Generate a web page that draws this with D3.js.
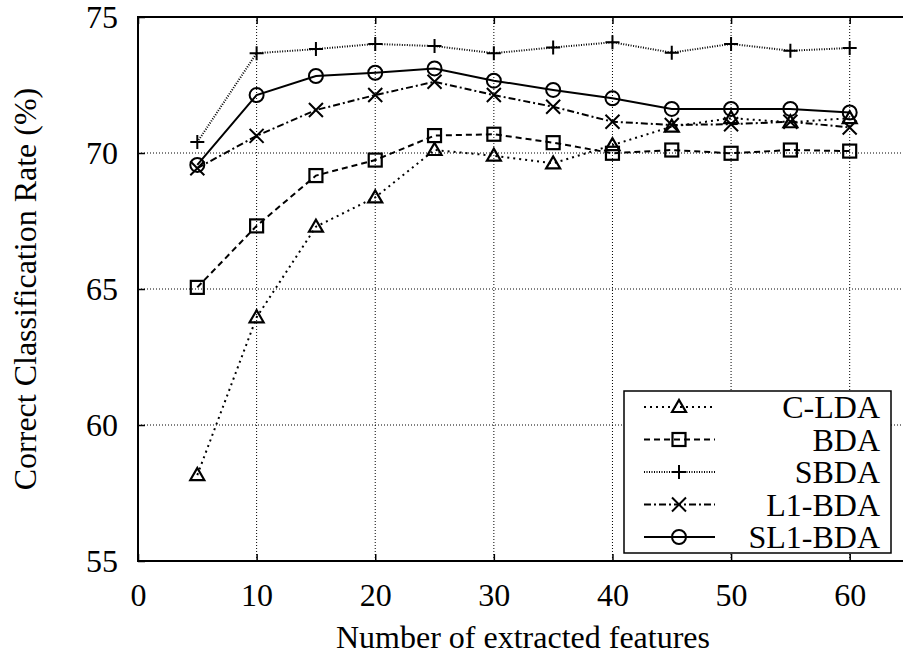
<!DOCTYPE html>
<html lang="en">
<head>
<meta charset="utf-8">
<title>Correct Classification Rate</title>
<style>
body { margin: 0; background: #fff; }
svg text { font-family: "Liberation Serif", "DejaVu Serif", serif; fill: #000; }
.grid line { stroke: #000; stroke-width: 1; stroke-dasharray: 1 2; }
</style>
<script src="https://cdn.jsdelivr.net/npm/d3@7/dist/d3.min.js"></script>
</head>
<body>
<div id="chart"></div>
<script>
// data
var features = [5, 10, 15, 20, 25, 30, 35, 40, 45, 50, 55, 60];
var cLDA   = [58.16, 63.96, 67.29, 68.37, 70.11, 69.90, 69.62, 70.29, 70.97, 71.28, 71.13, 71.28];
var bda    = [65.06, 67.32, 69.17, 69.74, 70.64, 70.69, 70.38, 69.99, 70.11, 69.99, 70.11, 70.07];
var sbda   = [70.40, 73.67, 73.82, 74.01, 73.93, 73.67, 73.88, 74.07, 73.69, 74.01, 73.76, 73.86];
var l1bda  = [69.44, 70.63, 71.58, 72.13, 72.62, 72.13, 71.70, 71.15, 71.03, 71.06, 71.15, 70.94];
var sl1bda = [69.56, 72.13, 72.83, 72.95, 73.11, 72.66, 72.32, 72.01, 71.62, 71.62, 71.62, 71.49];
var seriesNames = ['C-LDA', 'BDA', 'SBDA', 'L1-BDA', 'SL1-BDA'];
var xTicks = [0, 10, 20, 30, 40, 50, 60];
var yTicks = [55, 60, 65, 70, 75];

var series = [
  { name: seriesNames[0], values: cLDA,   dash: '2 4',      marker: 'triangle' },
  { name: seriesNames[1], values: bda,    dash: '6 4',      marker: 'square' },
  { name: seriesNames[2], values: sbda,   dash: '1 1.5',    marker: 'plus' },
  { name: seriesNames[3], values: l1bda,  dash: '7 3 2 3',  marker: 'cross' },
  { name: seriesNames[4], values: sl1bda, dash: null,       marker: 'circle' }
];

var W = 903, H = 660;
var pLeft = 138, pTop = 17, pRight = 909, pBottom = 561;

var svg = d3.select('#chart').append('svg')
  .attr('width', W).attr('height', H);

var x = d3.scaleLinear().domain([0, 65]).range([pLeft, pRight]);
var y = d3.scaleLinear().domain([55, 75]).range([pBottom, pTop]);

// grid
var grid = svg.append('g').attr('class', 'grid');
grid.selectAll('.gx').data(xTicks.filter(function(d) { return d > 0; }))
  .enter().append('line')
  .attr('x1', function(d) { return x(d); }).attr('x2', function(d) { return x(d); })
  .attr('y1', pTop).attr('y2', pBottom);
grid.selectAll('.gy').data(yTicks.filter(function(d) { return d > 55 && d < 75; }))
  .enter().append('line')
  .attr('x1', pLeft).attr('x2', pRight)
  .attr('y1', function(d) { return y(d); }).attr('y2', function(d) { return y(d); });

// axes (gnuplot style, inward ticks)
var xAxis = svg.append('g')
  .attr('transform', 'translate(0,' + pBottom + ')')
  .call(d3.axisBottom(x).tickValues(xTicks).tickSizeInner(-7).tickSizeOuter(0).tickPadding(22));
var xAxisTop = svg.append('g')
  .attr('transform', 'translate(0,' + pTop + ')')
  .call(d3.axisTop(x).tickValues(xTicks).tickSizeInner(-7).tickSizeOuter(0).tickFormat(''));
var yAxis = svg.append('g')
  .attr('transform', 'translate(' + pLeft + ',0)')
  .call(d3.axisLeft(y).tickValues(yTicks).tickSizeInner(-7).tickSizeOuter(0).tickPadding(20));

[xAxis, xAxisTop, yAxis].forEach(function(a) {
  a.select('.domain').remove();
  a.selectAll('line').attr('stroke', '#000').attr('stroke-width', 1.5);
  a.selectAll('text').style('font-size', '32px').attr('font-family', null);
});

// frame
svg.append('rect')
  .attr('x', pLeft).attr('y', pTop)
  .attr('width', pRight - pLeft).attr('height', pBottom - pTop)
  .attr('fill', 'none').attr('stroke', '#000').attr('stroke-width', 2);

// axis titles
svg.append('text')
  .attr('x', 523).attr('y', 648)
  .attr('text-anchor', 'middle').style('font-size', '32px')
  .text('Number of extracted features');
svg.append('text')
  .attr('transform', 'translate(36,' + ((pTop + pBottom) / 2) + ') rotate(-90)')
  .attr('text-anchor', 'middle').style('font-size', '32px')
  .text('Correct Classification Rate (%)');

function drawMarker(g, type, cx, cy) {
  var s = 7;
  if (type === 'triangle') {
    g.append('path')
      .attr('d', 'M' + (cx - s) + ',' + (cy + 5) + 'L' + cx + ',' + (cy - 7) + 'L' + (cx + s) + ',' + (cy + 5) + 'Z')
      .attr('fill', 'none').attr('stroke', '#000').attr('stroke-width', 2.2);
  } else if (type === 'square') {
    g.append('rect')
      .attr('x', cx - 6.5).attr('y', cy - 6.5).attr('width', 13).attr('height', 13)
      .attr('fill', 'none').attr('stroke', '#000').attr('stroke-width', 2.2);
  } else if (type === 'plus') {
    g.append('path')
      .attr('d', 'M' + (cx - s) + ',' + cy + 'H' + (cx + s) + 'M' + cx + ',' + (cy - s) + 'V' + (cy + s))
      .attr('stroke', '#000').attr('stroke-width', 2);
  } else if (type === 'cross') {
    g.append('path')
      .attr('d', 'M' + (cx - s) + ',' + (cy - s) + 'L' + (cx + s) + ',' + (cy + s) + 'M' + (cx + s) + ',' + (cy - s) + 'L' + (cx - s) + ',' + (cy + s))
      .attr('stroke', '#000').attr('stroke-width', 2);
  } else {
    g.append('circle')
      .attr('cx', cx).attr('cy', cy).attr('r', 7)
      .attr('fill', 'none').attr('stroke', '#000').attr('stroke-width', 2);
  }
}

var line = d3.line()
  .x(function(d, i) { return x(features[i]); })
  .y(function(d) { return y(d); });

var plot = svg.append('g');
series.forEach(function(s) {
  plot.append('path')
    .datum(s.values)
    .attr('d', line)
    .attr('fill', 'none').attr('stroke', '#000').attr('stroke-width', 2)
    .attr('stroke-dasharray', s.dash);
  var mg = plot.append('g');
  s.values.forEach(function(v, i) { drawMarker(mg, s.marker, x(features[i]), y(v)); });
});

// legend
var lg = svg.append('g');
lg.append('rect')
  .attr('x', 624).attr('y', 391).attr('width', 267).attr('height', 162)
  .attr('fill', '#fff').attr('stroke', '#000').attr('stroke-width', 1.5);
series.forEach(function(s, i) {
  var ly = 407 + i * 32.5;
  lg.append('line')
    .attr('x1', 644).attr('x2', 715).attr('y1', ly).attr('y2', ly)
    .attr('stroke', '#000').attr('stroke-width', 2)
    .attr('stroke-dasharray', s.dash);
  drawMarker(lg, s.marker, 679, ly);
  lg.append('text')
    .attr('x', 880).attr('y', ly + 11)
    .attr('text-anchor', 'end').style('font-size', '32px')
    .text(s.name);
});
</script>
</body>
</html>
